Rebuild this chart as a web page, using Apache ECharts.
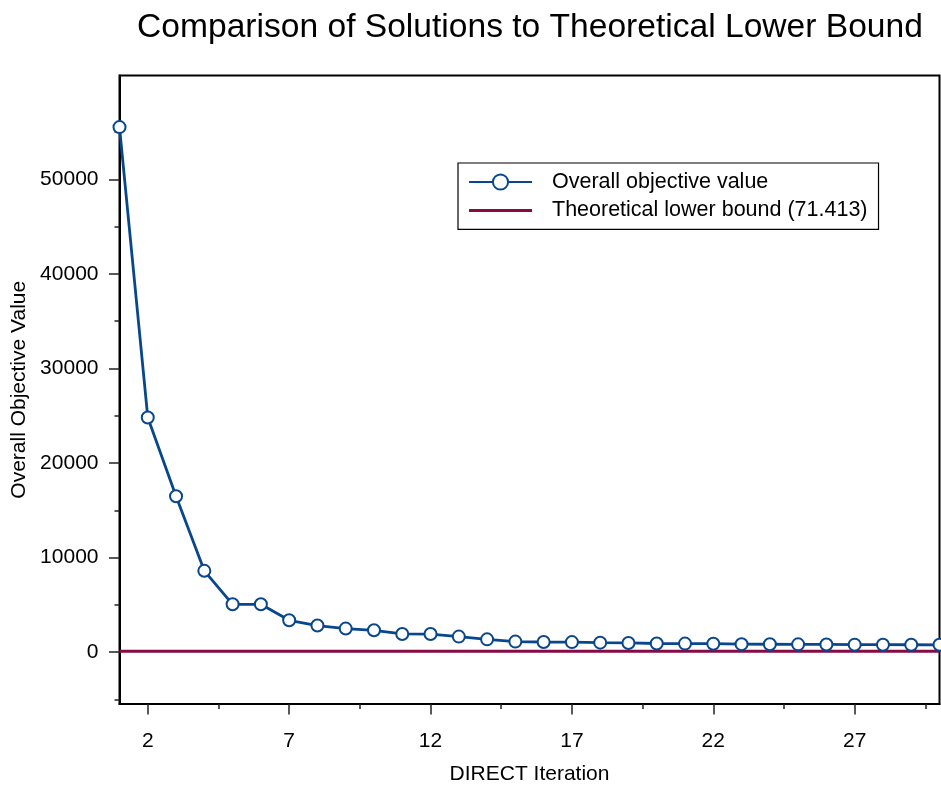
<!DOCTYPE html>
<html>
<head>
<meta charset="utf-8">
<script src="https://cdn.jsdelivr.net/npm/echarts@6/dist/echarts.min.js"></script>
<style>html,body{margin:0;padding:0;background:#fff}#c{width:941px;height:786px}</style>
</head>
<body>
<div id="c"></div>
<script>
const iterations = [1,2,3,4,5,6,7,8,9,10,11,12,13,14,15,16,17,18,19,20,21,22,23,24,25,26,27,28,29,30];
const objectiveValues = [55540,24820,16480,8590,5050,5050,3360,2800,2480,2300,1910,1900,1630,1340,1100,1060,1050,990,960,900,890,880,830,820,810,800,780,775,770,765];
const lowerBound = 71.413;
const boundRange = [1, 30];
const xMajorTicks = [2,7,12,17,22,27];
const xMinorTicks = [4.5,9.5,14.5,19.5,24.5,29.5];
const yMajorTicks = [0,10000,20000,30000,40000,50000];
const yMinorTicks = [-5000,5000,15000,25000,35000,45000,55000];
const seriesNames = ['Overall objective value', 'Theoretical lower bound (71.413)'];

const BLUE = '#08478c';
const RED = '#870a45';
const FONT = 'Liberation Sans, Arial, sans-serif';

const chart = echarts.init(document.getElementById('c'), null, {renderer: 'canvas'});
const xRange = {min: 1, max: 30};
const yRange = {min: -5500, max: 61000};

chart.setOption({
  animation: false,
  backgroundColor: '#fff',
  title: {
    text: 'Comparison of Solutions to Theoretical Lower Bound',
    left: 525, textAlign: 'center', top: 6,
    textStyle: {fontFamily: FONT, fontSize: 33.6, fontWeight: 'normal', color: '#000'}
  },
  grid: {left: 119.5, top: 75.5, right: 1.5, bottom: 82, show: true, borderColor: '#000', borderWidth: 2, containLabel: false, outerBoundsMode: 'none'},
  legend: {
    orient: 'vertical', left: 458, top: 163,
    padding: [8, 11, 8, 10],
    borderColor: '#000', borderWidth: 1.2, backgroundColor: '#fff',
    itemWidth: 63, itemHeight: 19, itemGap: 6.4,
    textStyle: {fontFamily: FONT, fontSize: 21.5, color: '#000', lineHeight: 22, padding: [0, 0, 0, 15]},
    data: [
      {name: seriesNames[0]},
      {name: seriesNames[1], icon: 'path://M0,0L63,0L63,3L0,3Z'}
    ]
  },
  xAxis: [
    {
      type: 'value', min: xRange.min, max: xRange.max,
      name: 'DIRECT Iteration', nameLocation: 'middle', nameGap: 60,
      nameTextStyle: {fontFamily: FONT, fontSize: 21, color: '#000'},
      axisLine: {show: true, onZero: false, lineStyle: {color: '#000', width: 2}},
      axisTick: {show: true, customValues: xMajorTicks, length: 10.5, lineStyle: {color: '#222', width: 1.5}},
      axisLabel: {customValues: xMajorTicks, margin: 27, fontFamily: FONT, fontSize: 21, color: '#000'},
      splitLine: {show: false}
    },
    {
      type: 'value', min: xRange.min, max: xRange.max, position: 'bottom',
      axisLine: {show: false, onZero: false},
      axisTick: {show: true, customValues: xMinorTicks, length: 5, lineStyle: {color: '#222', width: 1.5}},
      axisLabel: {show: false},
      splitLine: {show: false}
    }
  ],
  yAxis: [
    {
      type: 'value', min: yRange.min, max: yRange.max,
      name: 'Overall Objective Value', nameLocation: 'middle', nameGap: 77,
      nameTextStyle: {fontFamily: FONT, fontSize: 21, color: '#000'},
      axisLine: {show: true, onZero: false, lineStyle: {color: '#000', width: 2}},
      axisTick: {show: true, customValues: yMajorTicks, length: 10.5, lineStyle: {color: '#222', width: 1.5}},
      axisLabel: {customValues: yMajorTicks, margin: 21, fontFamily: FONT, fontSize: 21, color: '#000', formatter: v => String(v)},
      splitLine: {show: false}
    },
    {
      type: 'value', min: yRange.min, max: yRange.max, position: 'left',
      axisLine: {show: false, onZero: false},
      axisTick: {show: true, customValues: yMinorTicks, length: 5, lineStyle: {color: '#222', width: 1.5}},
      axisLabel: {show: false},
      splitLine: {show: false}
    }
  ],
  series: [
    {
      name: seriesNames[1], type: 'line', xAxisIndex: 0, yAxisIndex: 0,
      data: boundRange.map(x => [x, lowerBound]),
      symbol: 'none', color: RED,
      lineStyle: {color: RED, width: 3}, z: 2
    },
    {
      name: seriesNames[0], type: 'line', xAxisIndex: 0, yAxisIndex: 0,
      data: iterations.map((x, i) => [x, objectiveValues[i]]),
      symbol: 'emptyCircle', symbolSize: 12, showAllSymbol: true, color: BLUE,
      lineStyle: {color: BLUE, width: 2.8},
      itemStyle: {color: BLUE, borderColor: BLUE, borderWidth: 3},
      clip: false, z: 3
    }
  ]
});
</script>
</body>
</html>
